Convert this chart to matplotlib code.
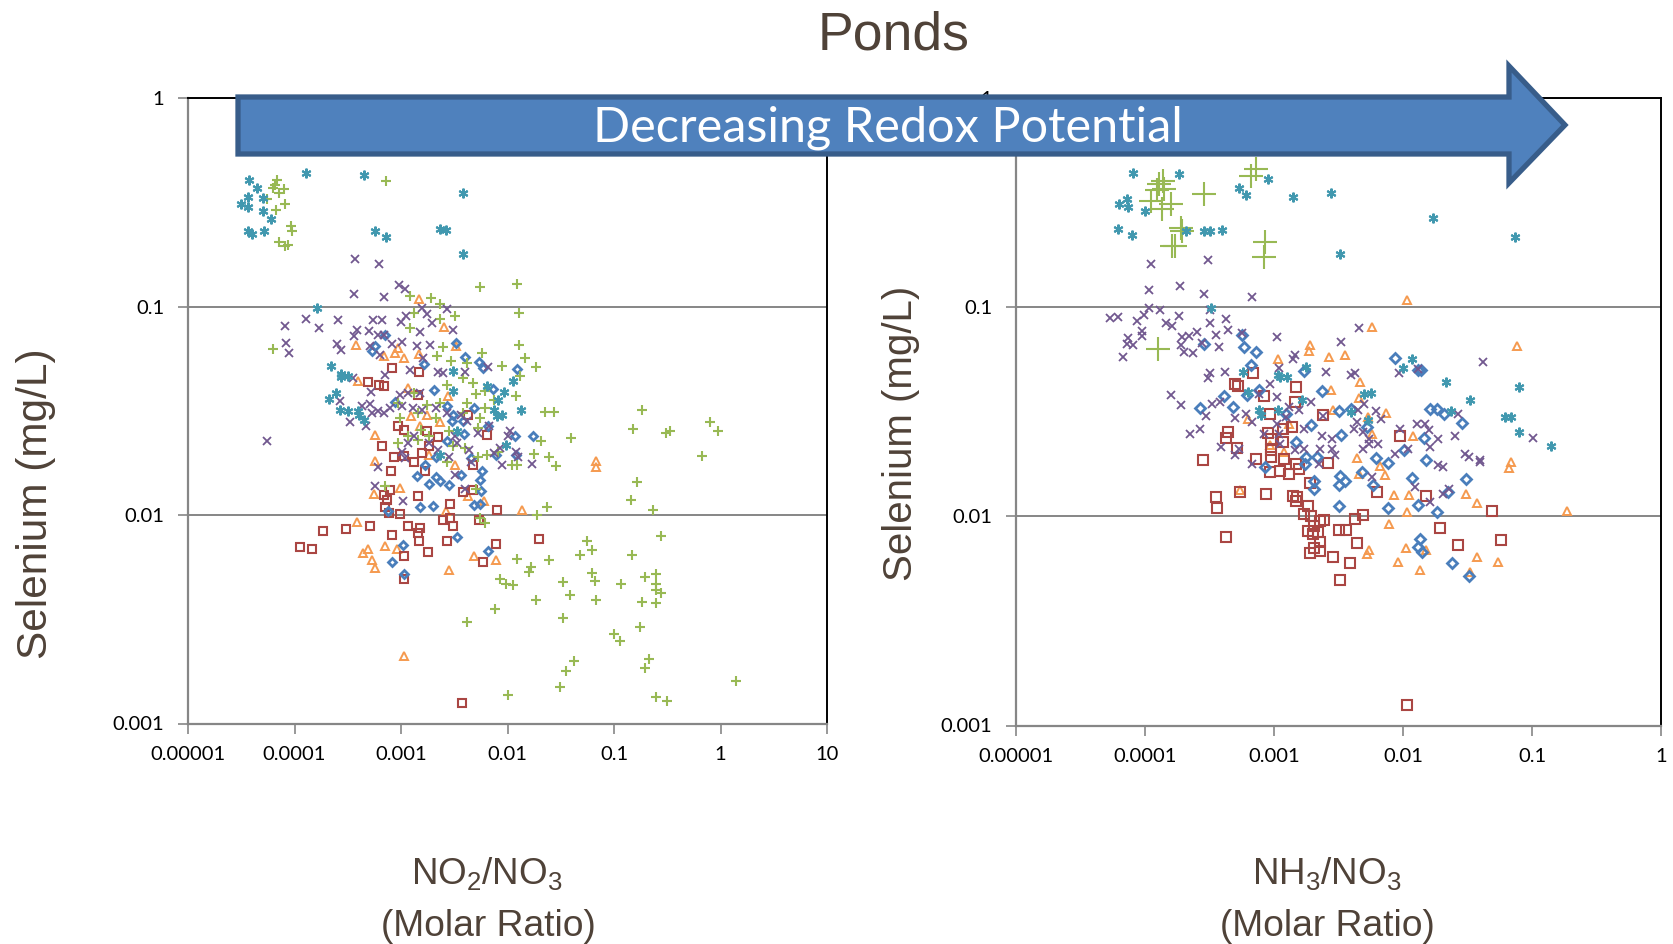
import matplotlib
matplotlib.use('Agg')
import matplotlib.pyplot as plt
import numpy as np
from matplotlib.patches import Polygon

# all points are (log10 ratio, log10 selenium)
no2_orange = [(-2.83,-.966),(-2.60,-1.098),(-3.42,-1.183),(-3.06,-1.223),(-3.03,-1.199),(-2.83,-1.226),(-3.16,-1.239),(-2.97,-1.247),
    (-2.48,-1.191),(-3.40,-1.359),(-2.93,-1.391),(-2.56,-1.431),(-2.91,-1.527),(-2.76,-1.519),(-2.63,-1.554),(-3.24,-1.615),(-3.24,-1.74),
    (-2.49,-1.76),(-1.17,-1.74),(-1.17,-1.771),(-2.74,-1.711),(-2.82,-1.575),(-3.01,-1.872),(-3.25,-1.898),(-2.37,-1.907),(-2.22,-1.934),
    (-2.58,-1.982),(-1.86,-1.974),(-3.41,-2.035),(-3.15,-2.149),(-3.31,-2.162),(-3.36,-2.181),(-3.04,-2.162),(-3.27,-2.218),(-3.24,-2.254),
    (-2.31,-2.195),(-2.11,-2.218),(-2.55,-2.262),(-2.97,-2.677)]
no2_red = [(-3.08,-1.295),(-2.83,-1.314),(-3.31,-1.364),(-3.21,-1.375),(-3.16,-1.383),(-2.84,-1.423),(-2.37,-1.519),(-3.03,-1.571),
    (-2.97,-1.591),(-2.76,-1.599),(-2.65,-1.627),(-2.19,-1.615),(-3.18,-1.671),(-3.07,-1.724),(-2.88,-1.748),(-2.80,-1.704),(-2.32,-1.76),
    (-3.09,-1.787),(-2.77,-1.787),(-2.97,-1.716),(-2.74,-1.671),(-3.10,-1.882),(-3.16,-1.902),(-3.13,-1.926),(-2.84,-1.907),(-3.15,-1.963),
    (-3.11,-1.99),(-3.01,-1.997),(-2.54,-1.947),(-2.10,-1.974),(-2.42,-1.891),(-2.32,-1.882),(-2.54,-2.014),(-2.61,-2.022),(-2.27,-2.026),
    (-3.29,-2.054),(-3.52,-2.069),(-3.73,-2.078),(-3.95,-2.152),(-3.84,-2.165),(-2.93,-2.051),(-2.82,-2.062),(-2.84,-2.086),(-3.08,-2.098),
    (-2.83,-2.126),(-2.51,-2.054),(-2.57,-2.126),(-2.11,-2.139),(-1.70,-2.114),(-2.75,-2.176),(-2.97,-2.195),(-2.23,-2.224),(-2.97,-2.306),
    (-2.43,-2.902)]
no2_blue = [(-3.15,-1.136),(-3.24,-1.191),(-3.27,-1.212),(-2.48,-1.176),(-2.40,-1.242),(-2.27,-1.266),(-2.23,-1.295),(-1.91,-1.3),
    (-2.78,-1.277),(-2.14,-1.396),(-2.69,-1.402),(-3.06,-1.458),(-2.31,-1.487),(-2.57,-1.479),(-2.51,-1.519),(-2.52,-1.551),(-2.42,-1.551),
    (-2.18,-1.575),(-2.41,-1.611),(-2.57,-1.643),(-1.93,-1.622),(-1.76,-1.619),(-1.92,-1.711),(-2.11,-1.711),(-2.34,-1.728),(-2.77,-1.76),
    (-2.67,-1.72),(-2.24,-1.787),(-2.85,-1.814),(-2.67,-1.818),(-2.63,-1.835),(-2.74,-1.85),(-2.55,-1.854),(-2.44,-1.806),(-2.26,-1.834),
    (-2.25,-1.885),(-2.82,-1.962),(-2.70,-1.958),(-3.12,-1.981),(-2.31,-1.952),(-2.26,-1.949),(-2.47,-2.107),(-2.98,-2.146),(-2.18,-2.171),
    (-3.08,-2.224),(-2.97,-2.283)]
no2_green = [(-4.16,-.393),(-4.18,-.418),(-4.20,-.434),(-4.10,-.437),(-4.15,-.458),(-4.26,-.486),(-4.09,-.508),(-4.17,-.538),(-4.03,-.614),
    (-4.02,-.639),(-4.15,-.689),(-4.09,-.71),(-4.06,-.704),(-3.14,-.399),(-2.26,-.907),(-1.91,-.894),(-1.89,-1.029),(-2.92,-.952),(-2.72,-.958),
    (-2.63,-.99),(-2.88,-1.03),(-2.49,-1.045),(-2.63,-1.06),(-2.92,-1.104),(-4.20,-1.202),(-1.89,-1.183),(-1.84,-1.248),(-1.73,-1.29),
    (-2.05,-1.287),(-2.24,-1.223),(-2.61,-1.196),(-2.66,-1.239),(-2.53,-1.263),(-2.38,-1.271),(-1.88,-1.335),(-1.92,-1.428),(-1.65,-1.505),
    (-1.56,-1.508),(-.74,-1.498),(-.82,-1.588),(-.51,-1.607),(-.47,-1.596),(-.10,-1.556),(-.02,-1.595),(-.17,-1.715),(-1.40,-1.63),(-1.69,-1.646),
    (-1.75,-1.708),(-1.61,-1.724),(-1.54,-1.764),(-1.96,-1.76),(-1.91,-1.76),(-2.42,-1.343),(-2.32,-1.367),(-2.57,-1.375),(-2.30,-1.42),
    (-2.21,-1.407),(-2.13,-1.447),(-2.38,-1.463),(-2.21,-1.487),(-2.88,-1.415),(-3.03,-1.463),(-2.76,-1.471),(-2.63,-1.463),(-2.84,-1.511),
    (-3.01,-1.535),(-2.67,-1.535),(-2.42,-1.511),(-2.26,-1.535),(-2.93,-1.623),(-2.81,-1.591),(-2.55,-1.599),(-2.28,-1.583),(-3.03,-1.655),
    (-2.84,-1.639),(-2.74,-1.623),(-2.51,-1.671),(-2.40,-1.68),(-2.28,-1.72),(-2.19,-1.711),(-2.57,-1.744),(-2.09,-1.696),(-3.15,-1.862),
    (-2.30,-1.875),(-1.63,-1.963),(-1.72,-2),(-2.26,-2.016),(-2.21,-2.04),(-.78,-1.842),(-.84,-1.928),(-.63,-1.974),(-.56,-2.10),(-1.25,-2.123),
    (-1.21,-2.168),(-1.32,-2.19),(-.83,-2.194),(-1.91,-2.21),(-1.61,-2.216),(-1.78,-2.248),(-1.80,-2.275),(-1.21,-2.277),(-.61,-2.282),
    (-.71,-2.299),(-2.07,-2.307),(-2.01,-2.331),(-1.95,-2.338),(-1.48,-2.32),(-1.18,-2.318),(-.93,-2.333),(-.61,-2.33),(-.61,-2.358),(-.56,-2.374),
    (-1.41,-2.384),(-1.17,-2.41),(-1.73,-2.41),(-.74,-2.416),(-.61,-2.422),(-2.12,-2.453),(-2.38,-2.512),(-1.48,-2.496),(-.76,-2.539),(-1.0,-2.57),
    (-.94,-2.603),(-1.38,-2.699),(-.67,-2.69),(-.71,-2.734),(-1.45,-2.746),(-1.51,-2.824),(-2.0,-2.862),(-.61,-2.874),(-.50,-2.894),(.15,-2.795)]
no2_purple = [(-3.43,-.772),(-3.21,-.795),(-3.02,-.897),(-2.96,-.918),(-3.44,-.938),(-3.16,-.954),(-2.80,-1.008),(-2.57,-1.011),(-3.89,-1.059),
    (-3.59,-1.064),(-3.26,-1.066),(-3.18,-1.066),(-3.77,-1.103),(-4.09,-1.093),(-2.95,-1.046),(-3.0,-1.075),(-2.76,-1.038),(-2.71,-1.079),
    (-2.51,-1.114),(-2.82,-1.123),(-3.41,-1.111),(-3.44,-1.143),(-3.30,-1.119),(-3.22,-1.135),(-3.16,-1.139),(-4.08,-1.175),(-4.05,-1.221),
    (-3.60,-1.179),(-3.56,-1.21),(-3.29,-1.191),(-3.20,-1.231),(-3.08,-1.179),(-2.99,-1.171),(-2.85,-1.191),(-2.73,-1.187),(-2.79,-1.247),
    (-2.92,-1.303),(-2.65,-1.316),(-2.61,-1.319),(-2.40,-1.314),(-2.18,-1.292),(-3.45,-1.343),(-3.15,-1.327),(-3.28,-1.412),(-3.57,-1.455),
    (-3.37,-1.479),(-3.29,-1.466),(-3.27,-1.511),(-3.22,-1.503),(-3.16,-1.511),(-3.10,-1.487),(-3.48,-1.556),(-3.33,-1.575),(-4.26,-1.646),
    (-3.01,-1.423),(-2.93,-1.415),(-2.82,-1.415),(-2.99,-1.479),(-2.89,-1.487),(-2.80,-1.495),(-2.67,-1.487),(-2.57,-1.511),(-2.44,-1.519),
    (-2.38,-1.551),(-2.17,-1.575),(-1.98,-1.599),(-2.0,-1.623),(-2.28,-1.607),(-2.49,-1.623),(-2.88,-1.623),(-2.93,-1.655),(-2.99,-1.696),
    (-2.65,-1.688),(-2.74,-1.655),(-2.47,-1.655),(-2.36,-1.688),(-2.13,-1.704),(-2.07,-1.68),(-1.92,-1.696),(-1.90,-1.72),(-1.77,-1.755),
    (-2.05,-1.76),(-3.22,-1.768),(-2.96,-1.728),(-2.55,-1.72),(-2.34,-1.744),(-3.24,-1.862),(-2.98,-1.931),(-2.40,-1.875),(-2.49,-1.806)]
no2_teal = [(-4.43,-.393),(-4.35,-.43),(-4.30,-.478),(-4.44,-.474),(-4.50,-.508),(-4.44,-.524),(-4.30,-.543),(-4.22,-.579),(-4.44,-.636),
    (-4.40,-.654),(-4.29,-.639),(-3.89,-.361),(-3.35,-.367),(-2.42,-.454),(-3.24,-.636),(-3.14,-.667),(-2.63,-.627),(-2.58,-.633),(-2.42,-.748),
    (-3.79,-1.006),(-3.66,-1.284),(-3.56,-1.322),(-3.56,-1.338),(-3.50,-1.332),(-3.61,-1.415),(-3.68,-1.444),(-3.57,-1.495),(-3.50,-1.503),
    (-3.40,-1.503),(-3.39,-1.519),(-3.35,-1.546),(-2.51,-1.311),(-2.51,-1.404),(-2.19,-1.38),(-1.95,-1.359),(-2.03,-1.41),(-2.09,-1.447),
    (-2.13,-1.495),(-2.10,-1.524),(-2.05,-1.521),(-1.87,-1.497),(-2.47,-1.595),(-2.01,-1.663),(-2.63,-1.71)]

nh3_orange = [(-1.97,-.965),(-2.24,-1.096),(-1.12,-1.186),(-2.72,-1.181),(-2.73,-1.208),(-2.97,-1.246),(-2.57,-1.238),(-2.45,-1.227),(-2.33,-1.36),
    (-2.56,-1.397),(-2.34,-1.434),(-2.54,-1.493),(-2.13,-1.507),(-2.27,-1.525),(-3.20,-1.536),(-2.88,-1.557),(-2.24,-1.605),(-1.92,-1.616),
    (-3.03,-1.661),(-2.92,-1.693),(-2.36,-1.722),(-2.18,-1.76),(-1.16,-1.738),(-1.18,-1.77),(-2.14,-1.802),(-2.34,-1.797),(-3.26,-1.876),
    (-2.07,-1.9),(-1.95,-1.896),(-1.51,-1.895),(-1.43,-1.935),(-1.97,-1.981),(-.73,-1.973),(-2.11,-2.035),(-1.98,-2.15),(-1.82,-2.163),
    (-1.43,-2.195),(-2.26,-2.163),(-2.28,-2.179),(-2.04,-2.217),(-1.87,-2.255),(-1.26,-2.218),(-1.48,-2.265)]
nh3_red = [(-3.16,-1.314),(-3.30,-1.368),(-3.28,-1.378),(-3.08,-1.424),(-2.83,-1.384),(-2.84,-1.453),(-3.03,-1.509),(-2.62,-1.517),(-2.86,-1.573),
    (-2.02,-1.618),(-3.36,-1.597),(-3.37,-1.626),(-3.29,-1.672),(-3.05,-1.602),(-3.02,-1.629),(-2.93,-1.581),(-2.93,-1.645),(-3.55,-1.733),
    (-3.14,-1.725),(-3.02,-1.685),(-3.02,-1.717),(-2.92,-1.725),(-2.58,-1.744),(-2.83,-1.749),(-2.81,-1.773),(-3.03,-1.789),(-2.95,-1.785),
    (-2.88,-1.796),(-2.72,-1.841),(-3.45,-1.907),(-3.44,-1.962),(-3.26,-1.882),(-3.06,-1.892),(-2.85,-1.901),(-2.82,-1.909),(-2.83,-1.928),
    (-2.74,-1.949),(-2.77,-1.987),(-2.71,-1.997),(-2.64,-2.024),(-2.61,-2.019),(-2.69,-2.045),(-2.74,-2.069),(-2.70,-2.083),(-2.66,-2.077),
    (-2.50,-2.064),(-2.44,-2.064),(-2.37,-2.014),(-2.31,-1.994),(-3.37,-2.099),(-2.64,-2.124),(-2.69,-2.152),(-2.64,-2.164),(-2.72,-2.175),
    (-2.54,-2.195),(-2.36,-2.126),(-2.41,-2.223),(-2.49,-2.305),(-2.20,-1.884),(-1.82,-1.903),(-1.31,-1.976),(-1.71,-2.054),(-1.57,-2.139),
    (-1.24,-2.113),(-1.97,-2.904)]
nh3_blue = [(-3.54,-1.176),(-3.25,-1.134),(-3.23,-1.192),(-3.14,-1.213),(-3.18,-1.277),(-2.77,-1.306),(-2.06,-1.245),(-1.88,-1.301),(-1.86,-1.301),
    (-2.63,-1.402),(-3.39,-1.426),(-3.12,-1.397),(-3.21,-1.421),(-3.57,-1.482),(-3.32,-1.477),(-2.50,-1.498),(-2.40,-1.485),(-2.91,-1.509),
    (-1.79,-1.485),(-1.74,-1.488),(-1.68,-1.509),(-1.54,-1.554),(-2.71,-1.562),(-2.28,-1.573),(-2.48,-1.613),(-2.83,-1.645),(-1.84,-1.626),
    (-1.99,-1.685),(-2.21,-1.72),(-2.12,-1.746),(-1.82,-1.733),(-2.75,-1.714),(-2.67,-1.717),(-2.76,-1.749),(-3.07,-1.762),(-2.69,-1.833),
    (-2.49,-1.809),(-2.45,-1.833),(-2.50,-1.852),(-2.32,-1.788),(-2.23,-1.852),(-1.93,-1.817),(-1.51,-1.82),(-2.69,-1.869),(-2.50,-1.952),
    (-2.12,-1.962),(-1.88,-1.947),(-1.74,-1.981),(-1.87,-2.107),(-1.88,-2.145),(-1.85,-2.172),(-1.62,-2.223),(-1.49,-2.284),(-1.65,-1.885)]
nh3_green = [(-3.14,-.341),(-3.18,-.373),(-3.86,-.397),(-3.89,-.413),(-3.85,-.434),(-3.91,-.442),(-3.95,-.493),(-3.80,-.509),(-3.87,-.533),
    (-3.54,-.459),(-3.72,-.621),(-3.71,-.637),(-3.77,-.706),(-3.79,-.709),(-3.07,-.69),(-3.08,-.76),(-3.90,-1.202)]
nh3_purple = [(-3.95,-.794),(-3.51,-.773),(-3.97,-.917),(-3.73,-.898),(-3.54,-.938),(-3.17,-.952),(-3.97,-1.006),(-3.88,-1.013),(-3.74,-1.04),
    (-4.27,-1.05),(-4.21,-1.045),(-4.06,-1.064),(-4.01,-1.037),(-3.84,-1.074),(-3.79,-1.091),(-3.50,-1.013),(-3.50,-1.077),(-3.37,-1.058),
    (-3.36,-1.109),(-3.25,-1.125),(-4.02,-1.112),(-4.02,-1.138),(-4.13,-1.149),(-4.14,-1.176),(-4.09,-1.181),(-4.17,-1.237),(-3.71,-1.141),
    (-3.66,-1.138),(-3.60,-1.117),(-3.72,-1.181),(-3.70,-1.213),(-3.63,-1.221),(-3.56,-1.173),(-3.43,-1.189),(-3.45,-1.133),(-2.98,-1.141),
    (-2.34,-1.101),(-2.48,-1.168),(-2.84,-1.229),(-2.85,-1.25),(-2.96,-1.293),(-1.38,-1.261),(-2.03,-1.314),(-1.88,-1.298),(-2.60,-1.309),
    (-2.40,-1.325),(-2.37,-1.317),(-3.38,-1.31),(-3.50,-1.317),(-3.51,-1.341),(-3.03,-1.365),(-3.80,-1.421),(-3.72,-1.47),(-3.12,-1.413),
    (-2.98,-1.429),(-2.71,-1.453),(-2.30,-1.461),(-2.35,-1.493),(-2.21,-1.496),(-2.17,-1.533),(-3.48,-1.461),(-3.42,-1.453),(-3.53,-1.522),
    (-3.22,-1.509),(-3.30,-1.528),(-3.17,-1.549),(-2.88,-1.477),(-2.81,-1.493),(-2.91,-1.525),(-2.62,-1.522),(-2.98,-1.557),(-1.89,-1.56),
    (-1.83,-1.557),(-1.80,-1.589),(-1.57,-1.512),(-2.02,-1.581),(-1.73,-1.629),(-1.60,-1.614),(-.99,-1.626),(-3.65,-1.605),(-3.57,-1.581),
    (-3.08,-1.605),(-2.96,-1.605),(-2.77,-1.581),(-2.63,-1.618),(-2.55,-1.629),(-2.38,-1.581),(-2.31,-1.597),(-2.26,-1.629),(-2.36,-1.549),
    (-3.41,-1.669),(-3.27,-1.677),(-3.30,-1.709),(-2.95,-1.653),(-2.84,-1.685),(-2.77,-1.677),(-2.64,-1.677),(-2.55,-1.677),(-2.53,-1.709),
    (-2.31,-1.677),(-2.19,-1.653),(-2.26,-1.653),(-2.06,-1.701),(-1.96,-1.677),(-1.79,-1.669),(-1.52,-1.701),(-1.49,-1.717),(-1.40,-1.73),
    (-1.40,-1.741),(-1.73,-1.754),(-1.69,-1.762),(-3.17,-1.749),(-2.65,-1.749),(-2.24,-1.812),(-1.91,-1.86),(-1.64,-1.869),(-1.69,-1.893),(-1.79,-1.933)]
nh3_teal = [(-4.09,-.36),(-3.74,-.365),(-3.05,-.389),(-3.27,-.429),(-3.22,-.466),(-2.85,-.475),(-2.56,-.453),(-4.14,-.482),(-4.20,-.507),
    (-4.13,-.522),(-4.0,-.541),(-4.21,-.626),(-4.10,-.653),(-3.68,-.637),(-3.54,-.634),(-3.50,-.635),(-3.40,-.632),(-1.77,-.576),(-1.13,-.666),
    (-2.49,-.747),(-3.49,-1.006),(-3.24,-1.309),(-2.97,-1.325),(-2.95,-1.336),(-2.90,-1.333),(-2.75,-1.285),(-1.93,-1.246),(-2.0,-1.291),
    (-1.67,-1.357),(-1.10,-1.381),(-1.48,-1.446),(-2.25,-1.41),(-2.30,-1.413),(-3.20,-1.405),(-2.78,-1.445),(-3.12,-1.493),(-3.10,-1.517),
    (-2.97,-1.493),(-2.40,-1.501),(-2.27,-1.541),(-1.63,-1.496),(-1.21,-1.525),(-1.16,-1.525),(-1.10,-1.597),(-.85,-1.662)]

left_ticks = ['0.00001', '0.0001', '0.001', '0.01', '0.1', '1', '10']
right_ticks = ['0.00001', '0.0001', '0.001', '0.01', '0.1', '1']
y_ticks = ['0.001', '0.01', '0.1', '1']

W, H = 1673, 944
BROWN = '#4f4238'
GRAY = '#868686'
plt.rcParams['mathtext.default'] = 'regular'
fig = plt.figure(figsize=(W / 100, H / 100), dpi=100)


def box(x0, y0, x1, y1):
    return [x0 / W, 1 - y1 / H, (x1 - x0) / W, (y1 - y0) / H]


def points(ax, pts, **kw):
    a = np.array(pts)
    ax.plot(10 ** a[:, 0], 10 ** a[:, 1], ls='none', mfc='none', clip_on=False, **kw)


def setup(ax, ticks):
    ax.set_xscale('log')
    ax.set_yscale('log')
    ax.set_xlim(1e-5, float(ticks[-1]))
    ax.set_ylim(1e-3, 1)
    ax.set_xticks([float(t) for t in ticks], ticks)
    ax.set_yticks([float(t) for t in y_ticks], y_ticks)
    ax.minorticks_off()
    ax.grid(axis='y', color=GRAY, lw=1.4)
    ax.set_axisbelow(True)
    ax.tick_params(length=7, width=1.2, color=GRAY, labelsize=14.5)
    ax.tick_params(axis='x', pad=9)
    ax.tick_params(axis='y', pad=10)
    for lab in ax.get_xticklabels() + ax.get_yticklabels():
        lab.set_family('Lato')
    for s in ['left', 'bottom']:
        ax.spines[s].set_color(GRAY)
        ax.spines[s].set_linewidth(1.6)
    for s in ['top', 'right']:
        ax.spines[s].set_color('black')
        ax.spines[s].set_linewidth(1.4)


ax1 = fig.add_axes(box(188, 98, 827, 723.5))
setup(ax1, left_ticks)
points(ax1, no2_orange, marker='^', ms=6.2, mec='#f59a4f', mew=1.4)
points(ax1, no2_red, marker='s', ms=5.8, mec='#aa4643', mew=1.5)
points(ax1, no2_blue, marker='D', ms=4.4, mec='#4a7ebb', mew=2)
points(ax1, no2_green, marker='+', ms=7, mec='#98b954', mew=1.5)
points(ax1, no2_purple, marker='x', ms=6.2, mec='#71588f', mew=1.3)
points(ax1, no2_teal, marker=(6, 2, 0), ms=7, mec='#4198af', mew=1.5)

ax2 = fig.add_axes(box(1016, 98, 1661, 725.5))
setup(ax2, right_ticks)
points(ax2, nh3_orange, marker='^', ms=6.4, mec='#f59a4f', mew=1.4)
points(ax2, nh3_red, marker='s', ms=7.8, mec='#aa4643', mew=1.5)
points(ax2, nh3_blue, marker='D', ms=4.6, mec='#4a7ebb', mew=2)
points(ax2, nh3_green, marker='+', ms=17, mec='#98b954', mew=1.5)
points(ax2, nh3_purple, marker='x', ms=6.2, mec='#71588f', mew=1.3)
points(ax2, nh3_teal, marker=(6, 2, 0), ms=7, mec='#4198af', mew=1.5)


def label(x, y, s, size, **kw):
    fig.text(x / W, 1 - y / H, s, fontsize=size, color=BROWN, family='Liberation Sans',
             ha='center', va='center', **kw)


label(894, 35, 'Ponds', 38.5)
label(36, 504, 'Selenium (mg/L)', 30.5, rotation=90)
label(901, 433, 'Selenium (mg/L)', 29, rotation=90)
label(487, 873, 'NO$_2$/NO$_3$', 26.5)
label(488, 927, '(Molar Ratio)', 26.8)
label(1327, 873, 'NH$_3$/NO$_3$', 26.5)
label(1327, 927, '(Molar Ratio)', 26.8)

# big arrow over both panels, outline in pixels
arrow = [(238, 97), (1509, 97), (1509, 66), (1565, 125), (1509, 183), (1509, 154), (238, 154)]
fig.add_artist(Polygon([(x / W, 1 - y / H) for x, y in arrow], closed=True, transform=fig.transFigure,
                       fc='#4f81bd', ec='#385d8a', lw=3.8, zorder=10, joinstyle='miter'))
fig.text(888 / W, 1 - 128 / H, 'Decreasing Redox Potential', fontsize=35, color='white', family='Lato',
         ha='center', va='center', zorder=11)

fig.savefig('out.png', dpi=100)
